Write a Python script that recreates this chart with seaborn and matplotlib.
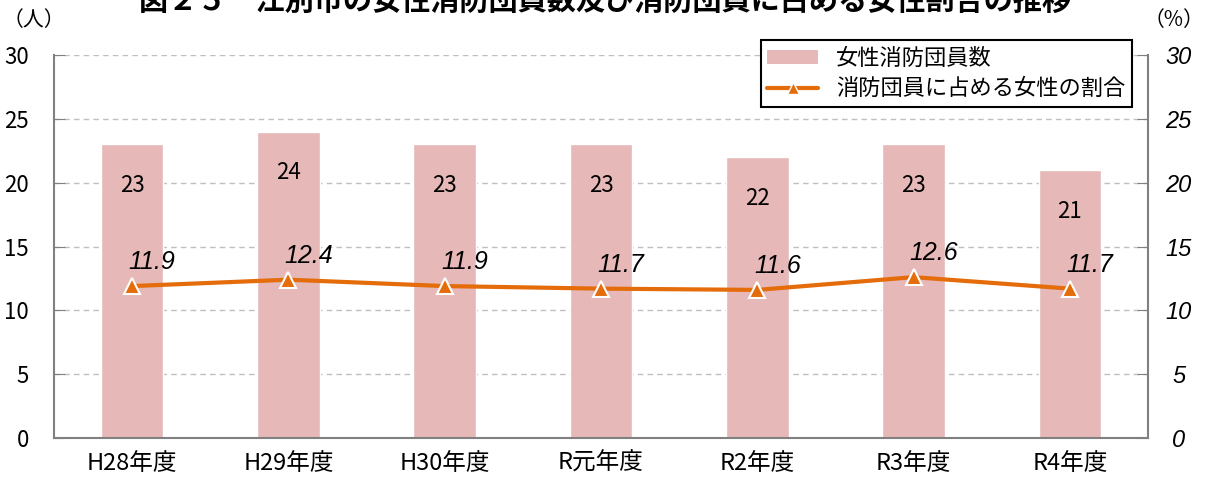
import matplotlib
matplotlib.use("Agg")
import matplotlib.pyplot as plt
import seaborn as sns
import pandas as pd
import numpy as np
from matplotlib.patches import Patch
from matplotlib.lines import Line2D

# data
years = ["H28年度", "H29年度", "H30年度", "R元年度", "R2年度", "R3年度", "R4年度"]
members = [23, 24, 23, 23, 22, 23, 21]
ratio = [11.9, 12.4, 11.9, 11.7, 11.6, 12.6, 11.7]

bar_label = "女性消防団員数"
line_label = "消防団員に占める女性の割合"
title = "図２５　江別市の女性消防団員数及び消防団員に占める女性割合の推移"

bar_color = "#E6B8B7"
line_color = "#E46C0A"
spine_color = "#808080"

sns.set_style("white")
plt.rcParams["font.family"] = ["Noto Sans CJK JP", "DejaVu Sans"]
plt.rcParams["text.color"] = "black"
plt.rcParams["xtick.labelcolor"] = "black"
plt.rcParams["ytick.labelcolor"] = "black"

df = pd.DataFrame({"year": years, "members": members, "ratio": ratio})

fig = plt.figure(figsize=(12.08, 4.83), dpi=100)
ax = fig.add_axes([54 / 1208, 1 - 438 / 483, (1148 - 54) / 1208, (438 - 55) / 483])

# bars
sns.barplot(data=df, x="year", y="members", color=bar_color, width=0.4,
            saturation=1, ax=ax, zorder=2)
ax.bar_label(ax.containers[0], padding=-38, fontsize=16, color="black")

ax.set_ylim(0, 30)
ax.set_yticks(np.arange(0, 31, 5))
ax.set_xlim(-0.5, len(years) - 0.5)
ax.set_xlabel("")
ax.set_ylabel("")
ax.grid(axis="y", color="#BFBFBF", linestyle=(0, (4, 3)), linewidth=1, zorder=0)
ax.set_axisbelow(True)
ax.tick_params(axis="y", direction="in", length=8, color=spine_color, labelsize=16, pad=18)
ax.tick_params(axis="x", which="major", length=0, labelsize=17, pad=10)
ax.set_xticks(np.arange(0.5, len(years) - 1, 1), minor=True)
ax.tick_params(axis="x", which="minor", direction="in", length=6, color=spine_color)

# line on secondary axis
ax2 = ax.twinx()
sns.lineplot(data=df, x="year", y="ratio", color=line_color, linewidth=3,
             marker="^", markersize=12, markeredgecolor="white",
             markeredgewidth=1.5, ax=ax2, zorder=3)
ax2.set_ylim(0, 30)
ax2.set_yticks(np.arange(0, 31, 5))
ax2.set_ylabel("")
ax2.tick_params(axis="y", direction="in", length=8, color=spine_color, pad=22)
for lab in ax2.get_yticklabels():
    lab.set_fontfamily(["Liberation Sans", "DejaVu Sans"])
    lab.set_fontstyle("italic")
    lab.set_fontsize(17)
    lab.set_horizontalalignment("center")

for i, v in enumerate(ratio):
    ax2.annotate(f"{v:.1f}", (i, v), xytext=(20, 24), textcoords="offset pixels",
                 ha="center", va="center", fontsize=18, style="italic",
                 color="black", family=["Liberation Sans", "DejaVu Sans"])

for a in (ax, ax2):
    a.spines["top"].set_visible(False)
    for s in ("left", "right", "bottom"):
        a.spines[s].set_color(spine_color)
        a.spines[s].set_linewidth(1.5)
ax.spines["right"].set_visible(False)
ax2.spines["left"].set_visible(False)
ax2.spines["bottom"].set_visible(False)

# legend
handles = [
    Patch(facecolor=bar_color, edgecolor="none"),
    Line2D([], [], color=line_color, linewidth=3, marker="^", markersize=8,
           markeredgecolor="white", markeredgewidth=1),
]
leg = fig.legend(handles, [bar_label, line_label], loc="upper right",
                 bbox_to_anchor=(1132 / 1208, 1 - 40 / 483), borderaxespad=0,
                 fontsize=16, frameon=True, fancybox=False, framealpha=1,
                 edgecolor="black", handlelength=2.3, handleheight=0.6,
                 labelspacing=0.35, borderpad=0.3)
leg.get_frame().set_linewidth(1.5)

# units and (clipped) title
fig.text(34 / 1208, 1 - 20 / 483, "（人）", ha="center", va="center", fontsize=15)
fig.text(1174 / 1208, 1 - 20 / 483, "（%）", ha="center", va="center", fontsize=15)
fig.text(605 / 1208, 1 - 10 / 483, title, ha="center", va="baseline",
         fontsize=21, fontweight="bold")

fig.savefig("out.png", dpi=100)
